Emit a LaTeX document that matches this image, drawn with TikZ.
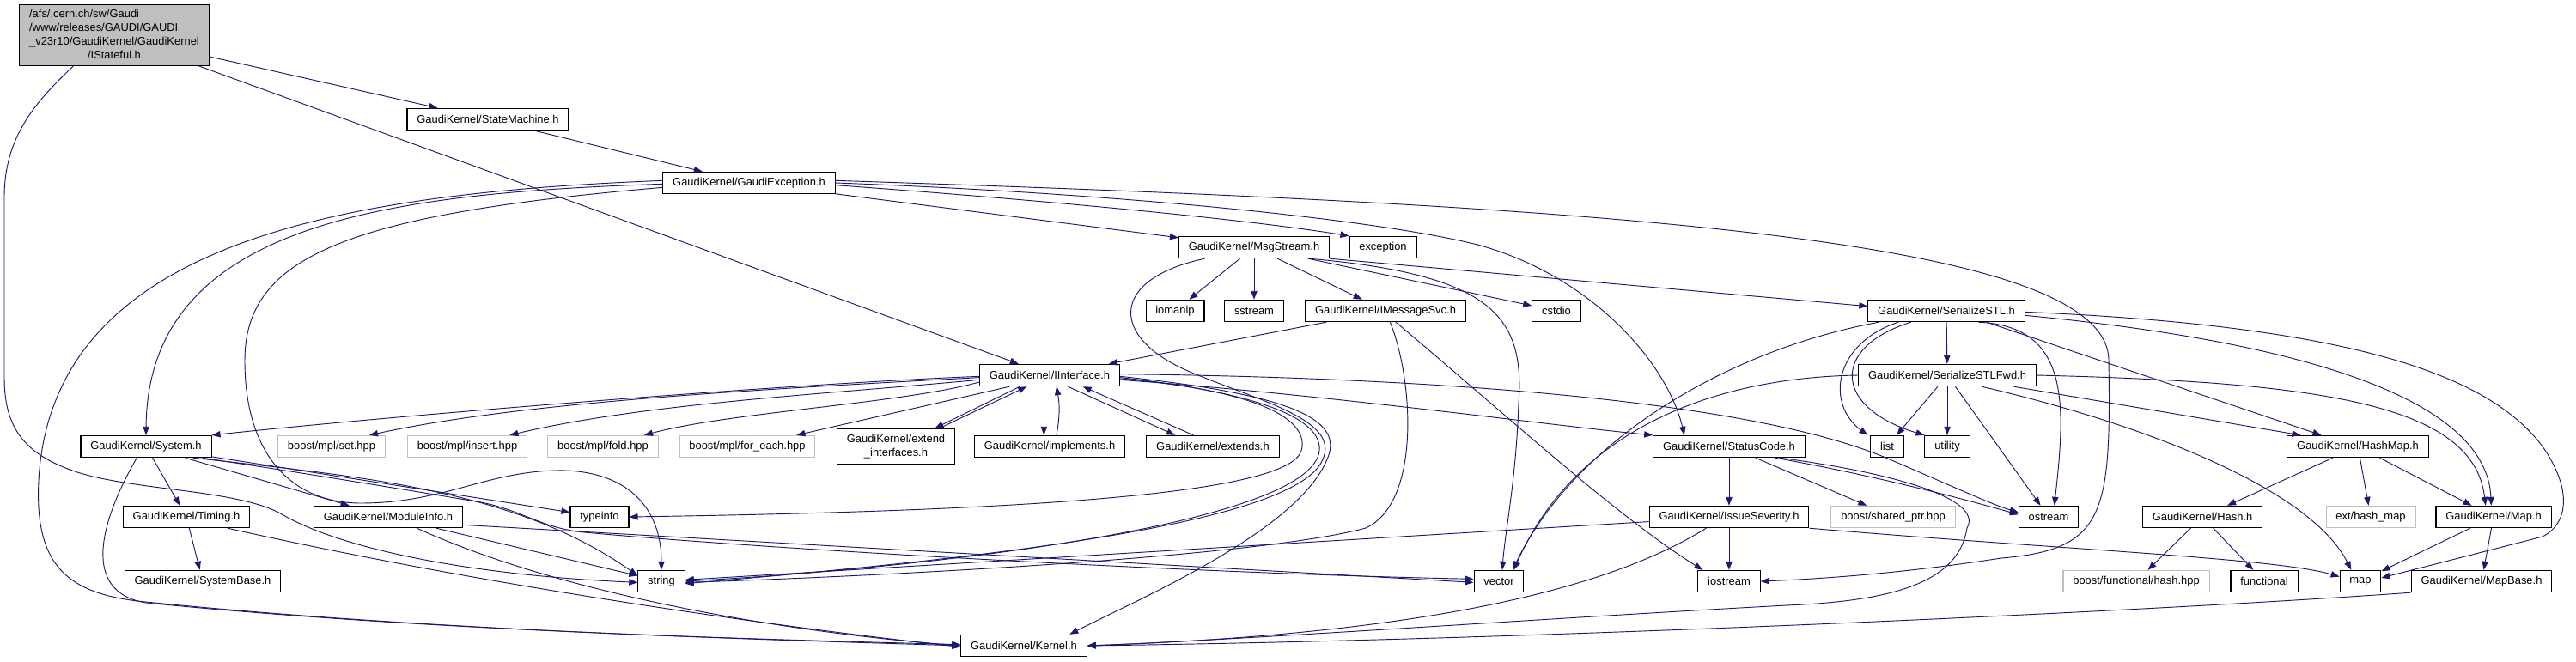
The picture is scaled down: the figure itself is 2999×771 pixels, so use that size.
\documentclass[tikz,border=0pt]{standalone}
\usepackage{fontspec}
\setmainfont{Liberation Sans}
\usetikzlibrary{arrows.meta,calc}

\definecolor{incblue}{HTML}{191970}
\definecolor{grey75}{HTML}{BFBFBF}

\begin{document}
\begin{tikzpicture}[x=0.75pt,y=-0.75pt,font=\fontsize{9.7}{12}\selectfont]

\tikzset{hfile/.style={draw=black,fill=white,line width=0.8pt,inner xsep=8.5pt,inner ysep=0pt,minimum height=19pt},
hmissing/.style={hfile,draw=grey75},
incl/.style={draw=incblue,line width=0.7pt,-{Triangle[length=7.5pt,width=5.5pt]}}}

\fill[white] (0,0) rectangle (2999,771);
\useasboundingbox (0,0) rectangle (2999,771);

% Root file
\node[hfile,fill=grey75,minimum height=53pt] (root) at (133,41) {\begin{tabular}{@{}l@{}}/afs/.cern.ch/sw/Gaudi\\/www/releases/GAUDI/GAUDI\\\_v23r10/GaudiKernel/GaudiKernel\\\multicolumn{1}{@{}c@{}}{/IStateful.h}\end{tabular}};

% Upper nodes
\node[hfile] (statem) at (568,139) {GaudiKernel/StateMachine.h};
\node[hfile] (gexc) at (872,213) {GaudiKernel/GaudiException.h};
\node[hfile] (msgs) at (1460,288) {GaudiKernel/MsgStream.h};
\node[hfile] (excp) at (1610,288) {exception};
\node[hfile] (ioman) at (1368,362) {iomanip};
\node[hfile] (sstr) at (1460,362) {sstream};
\node[hfile] (imsg) at (1613,362) {GaudiKernel/IMessageSvc.h};
\node[hfile] (cstd) at (1812,362) {cstdio};
\node[hfile] (sstl) at (2266,362) {GaudiKernel/SerializeSTL.h};
\node[hfile] (sfwd) at (2267,437) {GaudiKernel/SerializeSTLFwd.h};
\node[hfile] (iintf) at (1222,437) {GaudiKernel/IInterface.h};

% Row of System.h
\node[hfile] (sys) at (170,520) {GaudiKernel/System.h};
\node[hmissing] (mset) at (386,520) {boost/mpl/set.hpp};
\node[hmissing] (mins) at (544,520) {boost/mpl/insert.hpp};
\node[hmissing] (mfold) at (702,520) {boost/mpl/fold.hpp};
\node[hmissing] (mfor) at (870,520) {boost/mpl/for\_each.hpp};
\node[hfile,align=center,minimum height=31pt] (extif) at (1043,520) {GaudiKernel/extend\\\_interfaces.h};
\node[hfile] (impl) at (1222,520) {GaudiKernel/implements.h};
\node[hfile] (exts) at (1412,520) {GaudiKernel/extends.h};
\node[hfile] (stc) at (2013,520) {GaudiKernel/StatusCode.h};
\node[hfile] (lst) at (2197,520) {list};
\node[hfile] (util) at (2267,520) {utility};
\node[hfile] (hmap) at (2745,520) {GaudiKernel/HashMap.h};

% Row of ModuleInfo.h
\node[hfile] (timing) at (217,602) {GaudiKernel/Timing.h};
\node[hfile] (modinfo) at (452,602) {GaudiKernel/ModuleInfo.h};
\node[hfile] (tinfo) at (698,602) {typeinfo};
\node[hfile] (isev) at (2013,602) {GaudiKernel/IssueSeverity.h};
\node[hmissing] (shptr) at (2204,602) {boost/shared\_ptr.hpp};
\node[hfile] (ostr) at (2385,602) {ostream};
\node[hfile] (hash) at (2564,602) {GaudiKernel/Hash.h};
\node[hmissing] (exthm) at (2760,602) {ext/hash\_map};
\node[hfile] (mapH) at (2903,602) {GaudiKernel/Map.h};

% Row of string
\node[hfile] (sysb) at (236,677) {GaudiKernel/SystemBase.h};
\node[hfile] (str) at (770,677) {string};
\node[hfile] (vec) at (1745,677) {vector};
\node[hfile] (iostr) at (2013,677) {iostream};
\node[hmissing] (bfh) at (2487,677) {boost/functional/hash.hpp};
\node[hfile] (func) at (2636,677) {functional};
\node[hfile] (mapS) at (2748,677) {map};
\node[hfile] (mapb) at (2889,677) {GaudiKernel/MapBase.h};

% Bottom
\node[hfile] (kern) at (1192,752) {GaudiKernel/Kernel.h};

% Straight includes
\foreach \a/\b in {root/statem, root/iintf, statem/gexc, gexc/msgs, msgs/ioman, msgs/sstr, msgs/imsg, msgs/cstd, imsg/iintf, sstl/sfwd, sfwd/lst, sfwd/util, sfwd/ostr, hmap/hash, hmap/exthm, hmap/mapH, hash/bfh, hash/func, mapH/mapS, mapH/mapb, stc/isev, stc/shptr, isev/str, isev/iostr, sys/timing, sys/modinfo, sys/tinfo, timing/sysb, modinfo/str}
  \draw[incl] (\a) -- (\b);

% IStateful.h
\draw[incl] (root.217) .. controls (40,120) and (5,160) .. (5,230) -- (5,440) .. controls (5,500) and (30,530) .. (90,550) .. controls (160,572) and (280,570) .. (330,600) .. controls (400,640) and (550,670) .. ([yshift=-1pt]str.west);

% GaudiException.h
\draw[incl] ([yshift=-1pt]gexc.west) .. controls (450,225) and (172,260) .. (sys.north);
\draw[incl] ([yshift=2pt]gexc.west) .. controls (400,225) and (60,280) .. (45,560) .. controls (40,660) and (80,690) .. (160,700) .. controls (500,735) and (900,745) .. (kern.west);
\draw[incl] ([yshift=-4pt]gexc.west) .. controls (400,250) and (285,300) .. (285,420) .. controls (285,530) and (340,586) .. (420,586) .. controls (520,586) and (570,546) .. (660,548) .. controls (740,552) and (770,600) .. (str.north);
\draw[incl] ([yshift=-2pt]gexc.east) .. controls (1200,232) and (1450,255) .. (excp.north west);
\draw[incl] (gexc.east) .. controls (1300,225) and (1600,255) .. (1720,285) .. controls (1850,320) and (1940,420) .. ([xshift=-39pt]stc.north);
\draw[incl] ([yshift=2pt]gexc.east) .. controls (1900,240) and (2455,280) .. (2455,420) .. controls (2458,600) and (2450,640) .. (2330,650) .. controls (2200,670) and (2100,675) .. (iostr.east);

% MsgStream.h
\draw[incl] (msgs.south east) -- ([yshift=4pt]sstl.west);
\draw[incl] ([xshift=-43pt]msgs.south) .. controls (1290,325) and (1290,395) .. (1390,435) .. controls (1470,468) and (1560,490) .. (1540,535) .. controls (1510,610) and (1150,650) .. ([yshift=-2pt]str.east);
\draw[incl] ([xshift=48pt]msgs.south) .. controls (1740,320) and (1775,370) .. (1768,470) .. controls (1765,560) and (1752,620) .. ([xshift=3pt]vec.north);

% IMessageSvc.h
\draw[incl] ([xshift=4pt]imsg.south) .. controls (1645,440) and (1655,585) .. (1590,615) .. controls (1460,650) and (1000,672) .. ([yshift=-1pt]str.east);
\draw[incl] ([xshift=9pt]imsg.south) .. controls (1750,480) and (1880,600) .. ([xshift=-23pt]iostr.north);

% SerializeSTL.h
\draw[incl] ([xshift=-59pt]sstl.south) .. controls (2000,410) and (1830,520) .. ([xshift=12pt]vec.north);
\draw[incl] ([xshift=-42pt]sstl.south) .. controls (2135,400) and (2125,470) .. ([xshift=-17pt]lst.north);
\draw[incl] ([xshift=-31pt]sstl.south) .. controls (2130,405) and (2135,475) .. (util.north west);
\draw[incl] ([xshift=28pt]sstl.south) .. controls (2410,380) and (2405,470) .. ([xshift=5pt]ostr.north);
\draw[incl] ([xshift=35pt]sstl.south) -- ([xshift=-32pt]hmap.north);
\draw[incl] ([yshift=-4pt]sstl.east) .. controls (2700,400) and (2895,470) .. ([xshift=-2pt]mapH.north);
\draw[incl] ([yshift=-1pt]sstl.east) .. controls (2750,380) and (2900,440) .. (2960,520) .. controls (2995,570) and (2990,610) .. (2960,625) -- ([yshift=3pt]mapS.east);

% SerializeSTLFwd.h
\draw[incl] (sfwd.west) .. controls (1980,440) and (1830,510) .. ([xshift=13pt]vec.north);
\draw[incl] ([xshift=30pt]sfwd.south) .. controls (2500,495) and (2690,570) .. ([xshift=-8pt]mapS.north);
\draw[incl] ([xshift=58pt]sfwd.south) -- ([xshift=-50pt]hmap.north);
\draw[incl] (sfwd.east) .. controls (2700,445) and (2880,470) .. ([xshift=-7pt]mapH.north);

% MapBase.h
\draw[incl] (mapb.south west) .. controls (2500,712) and (1800,745) .. (kern.east);

% IInterface.h
\draw[incl] ([yshift=-1pt]iintf.west) .. controls (900,448) and (450,485) .. (sys.north east);
\draw[incl] ([yshift=-2pt]iintf.west) .. controls (850,455) and (600,470) .. ([xshift=33pt]mset.north);
\draw[incl] ([yshift=-4pt]iintf.west) .. controls (950,460) and (750,470) .. ([xshift=37pt]mins.north);
\draw[incl] ([yshift=-6pt]iintf.west) .. controls (1050,470) and (850,480) .. ([xshift=36pt]mfold.north);
\draw[incl] ([xshift=-35pt]iintf.south) -- ([xshift=43pt]mfor.north);
\draw[incl] ([xshift=-26pt]iintf.south) -- ([xshift=34pt]extif.north); \draw[incl] ([xshift=38pt]extif.north) -- ([xshift=-20pt]iintf.south);
\draw[incl] ([xshift=-5pt]iintf.south) -- ([xshift=-5pt]impl.north); \draw[incl] ([xshift=6pt]impl.north) to[bend right=10] ([xshift=6pt]iintf.south);
\draw[incl] ([xshift=16pt]iintf.south) -- ([xshift=-33pt]exts.north); \draw[incl] ([xshift=-17pt]exts.north) -- ([xshift=29pt]iintf.south);
\draw[incl] ([yshift=-3pt]iintf.east) .. controls (1470,455) and (1525,490) .. (1515,525) .. controls (1500,575) and (1200,595) .. (tinfo.east);
\draw[incl] ([yshift=-2pt]iintf.east) .. controls (1490,460) and (1545,495) .. (1535,530) .. controls (1510,610) and (1100,660) .. (str.east);
\draw[incl] ([yshift=-1pt]iintf.east) .. controls (1510,460) and (1565,490) .. (1545,535) .. controls (1510,620) and (1320,700) .. ([xshift=40pt]kern.north);
\draw[incl] ([yshift=-4pt]iintf.east) .. controls (1550,460) and (1800,495) .. (stc.north west);
\draw[incl] ([yshift=1pt]iintf.east) .. controls (1700,440) and (2050,470) .. (2200,535) .. controls (2270,565) and (2320,588) .. ([yshift=4pt]ostr.west);

% StatusCode.h
\draw[incl] ([xshift=40pt]stc.south) .. controls (2190,555) and (2300,585) .. ([yshift=2pt]ostr.west);
\draw[incl] ([xshift=44pt]stc.south) .. controls (2200,550) and (2310,580) .. (2290,615) .. controls (2280,680) and (2200,700) .. (2080,705) .. controls (1800,720) and (1450,745) .. (kern.east);

% IssueSeverity.h
\draw[incl] ([xshift=-20pt]isev.south) .. controls (1850,700) and (1600,740) .. (kern.east);
\draw[incl] (isev.south east) .. controls (2400,640) and (2650,650) .. ([yshift=4pt]mapS.west);

% System.h, Timing.h, ModuleInfo.h
\draw[incl] ([xshift=41pt]sys.south) .. controls (420,555) and (600,570) .. ([yshift=5pt]str.west);
\draw[incl] ([xshift=49pt]sys.south) .. controls (380,555) and (500,575) .. (560,585) .. controls (610,595) and (630,615) .. (680,620) .. controls (900,640) and (1400,668) .. ([yshift=2pt]vec.west);
\draw[incl] ([xshift=-8pt]sys.south) .. controls (115,610) and (95,690) .. (170,702) .. controls (500,735) and (900,745) .. ([yshift=1pt]kern.west);
\draw[incl] ([xshift=36pt]timing.south) .. controls (600,690) and (950,735) .. ([yshift=-1pt]kern.west);
\draw[incl] ([yshift=-7pt]modinfo.east) -- ([yshift=-1pt]vec.west);
\draw[incl] ([xshift=25pt]modinfo.south) .. controls (650,690) and (900,735) .. (kern.west);

\end{tikzpicture}
\end{document}
